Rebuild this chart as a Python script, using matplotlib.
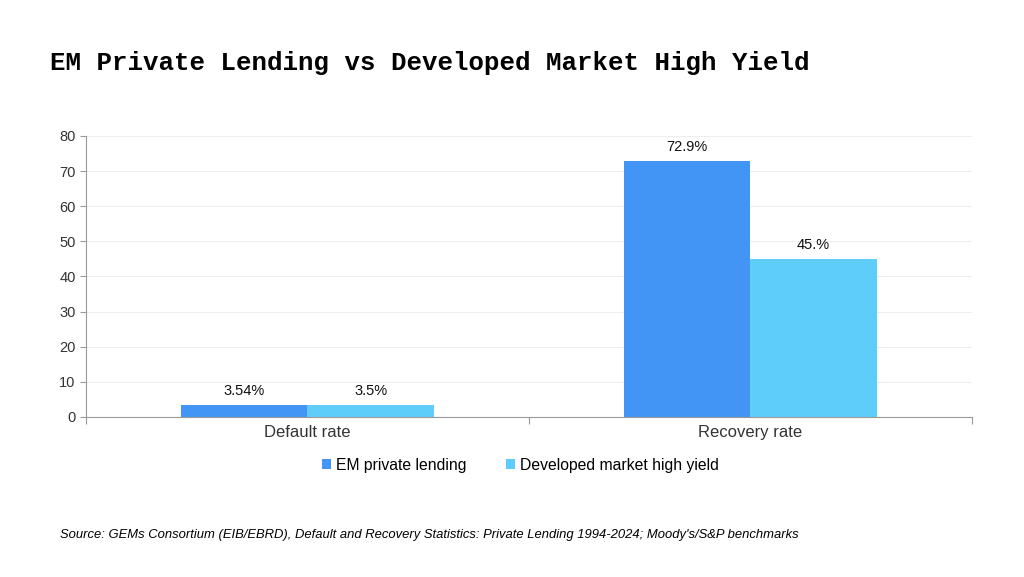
import matplotlib.pyplot as plt
import numpy as np

categories = ["Default rate", "Recovery rate"]
em_lending = [3.54, 72.9]
dm_high_yield = [3.5, 45.0]
em_labels = ["3.54%", "72.9%"]
dm_labels = ["3.5%", "45.%"]

plt.rcParams["font.family"] = ["Liberation Sans", "DejaVu Sans"]

fig = plt.figure(figsize=(10.24, 5.77), dpi=100)
ax = fig.add_axes([0.084, 0.2773, 0.865, 0.487])

x = np.arange(len(categories))
w = 0.285
b1 = ax.bar(x - w / 2, em_lending, w, color="#4295F5", label="EM private lending")
b2 = ax.bar(x + w / 2, dm_high_yield, w, color="#5FCDFA", label="Developed market high yield")

for bars, labels in ((b1, em_labels), (b2, dm_labels)):
    for rect, lab in zip(bars, labels):
        ax.text(rect.get_x() + rect.get_width() / 2, rect.get_height() + 2.0, lab,
                ha="center", va="bottom", fontsize=10.5, color="#111111")

ax.set_xlim(-0.5, 1.5)
ax.set_ylim(0, 80)
ax.set_yticks(range(0, 81, 10))
ax.set_xticks([-0.5, 0.5, 1.5])
ax.set_xticklabels([])
ax.set_xticks(x, minor=True)
ax.set_xticklabels(categories, minor=True, fontsize=12, color="#333333")
ax.tick_params(axis="x", which="minor", length=0, pad=6)
ax.tick_params(axis="x", which="major", length=5, color="#999999", direction="out")
ax.tick_params(axis="y", length=4, color="#999999", labelsize=10.5, labelcolor="#333333")

ax.grid(axis="y", color="#eeeeee", linewidth=0.8)
ax.set_axisbelow(True)
for s in ("top", "right"):
    ax.spines[s].set_visible(False)
for s in ("left", "bottom"):
    ax.spines[s].set_color("#999999")

fig.legend(loc="center", bbox_to_anchor=(0.508, 0.194), ncol=2, frameon=False,
           fontsize=11.3, handlelength=0.6, handleheight=0.6, handletextpad=0.3,
           columnspacing=2.5)

fig.text(0.049, 0.89, "EM Private Lending vs Developed Market High Yield",
         fontfamily="Liberation Mono", fontweight="bold", fontsize=18.5,
         va="center", ha="left")
fig.text(0.059, 0.073,
         "Source: GEMs Consortium (EIB/EBRD), Default and Recovery Statistics: Private Lending 1994-2024; Moody's/S&P benchmarks",
         fontsize=9.4, style="italic", va="center", ha="left")

fig.savefig("out.png", dpi=100)
